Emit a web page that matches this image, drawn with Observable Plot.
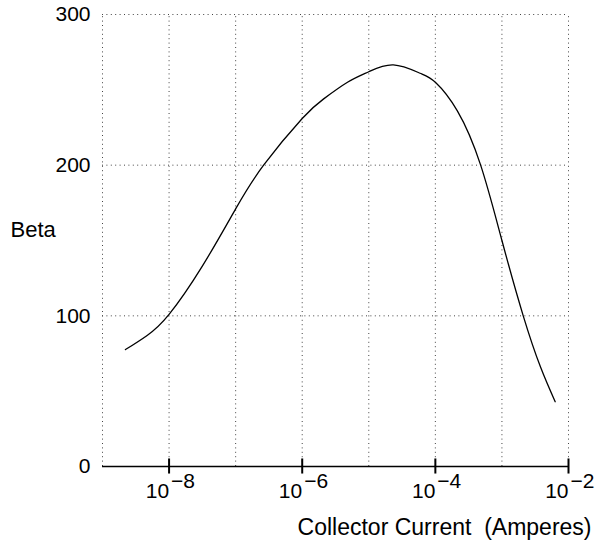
<!DOCTYPE html>
<html>
<head>
<meta charset="utf-8">
<script src="https://cdn.jsdelivr.net/npm/d3@7"></script>
<script src="https://cdn.jsdelivr.net/npm/@observablehq/plot@0.6"></script>
<style>
  html, body { margin: 0; padding: 0; background: #fff; }
  svg { display: block; }
</style>
</head>
<body>
<div id="chart"></div>
<script>
// Collector current (A) and beta
const current = [2.21e-9, 4.68e-9, 1e-8, 3.16e-8, 1e-7, 2.63e-7, 1e-6, 2.10e-6, 4.79e-6, 1e-5, 2.34e-5, 5.89e-5, 1e-4, 2.14e-4, 4.79e-4, 1e-3, 2.09e-3, 3.80e-3, 6.31e-3];
const beta    = [77.6,    87,      101,  133,     171,  200,     231,  244,     255,     262,  266.5,   261,     255,  236,     200,     150,  100,     66,      43];

const gridDecades = [1e-9, 1e-8, 1e-7, 1e-6, 1e-5, 1e-4, 1e-3, 1e-2];
const labelDecades = [1e-8, 1e-6, 1e-4, 1e-2];
const labelBase = ["10", "10", "10", "10"];
const labelExp = ["\u22128", "\u22126", "\u22124", "\u22122"];
const yTicks = [0, 100, 200, 300];
const yGrid = [100, 200, 300];

const data = current.map((c, i) => ({current: c, beta: beta[i]}));
const xLabels = labelDecades.map((d, i) => ({x: d, base: labelBase[i], exp: labelExp[i]}));

const font = "'Liberation Sans', Arial, Helvetica, sans-serif";
const dots = {stroke: "#444", strokeWidth: 1, strokeDasharray: "1,3.4"};

const chart = Plot.plot({
  width: 604,
  height: 543,
  marginLeft: 102,
  marginRight: 36,
  marginTop: 14,
  marginBottom: 77,
  style: {fontFamily: font, fontSize: "21px", color: "#000", background: "#fff"},
  x: {type: "log", domain: [1e-9, 1e-2], axis: null},
  y: {domain: [0, 300], ticks: yTicks, tickSize: 0, tickPadding: 12, label: null, tickFormat: d => String(d)},
  marks: [
    Plot.ruleX(gridDecades, {y1: 0, y2: 300, ...dots}),
    Plot.ruleY(yGrid, dots),
    Plot.ruleY([0], {stroke: "#000", strokeWidth: 1.5}),
    Plot.ruleX(labelDecades, {y1: -5, y2: 5, stroke: "#000", strokeWidth: 2}),
    Plot.line(data, {x: "current", y: "beta", curve: "natural", stroke: "#000", strokeWidth: 1.3}),
    Plot.text(xLabels, {x: "x", y: 0, text: "base", textAnchor: "end", lineAnchor: "bottom", dy: 31, fontSize: 21}),
    Plot.text(xLabels, {x: "x", y: 0, text: "exp", textAnchor: "start", lineAnchor: "bottom", dy: 21, dx: 2, fontSize: 21}),
    Plot.text(["Collector Current  (Amperes)"], {frameAnchor: "bottom-right", textAnchor: "end", lineAnchor: "bottom", dy: 68, dx: 23, fontSize: 23}),
    Plot.text(["Beta"], {frameAnchor: "left", y: 157, textAnchor: "start", dx: -92, fontSize: 22})
  ]
});
document.getElementById("chart").appendChild(chart);
</script>
</body>
</html>
